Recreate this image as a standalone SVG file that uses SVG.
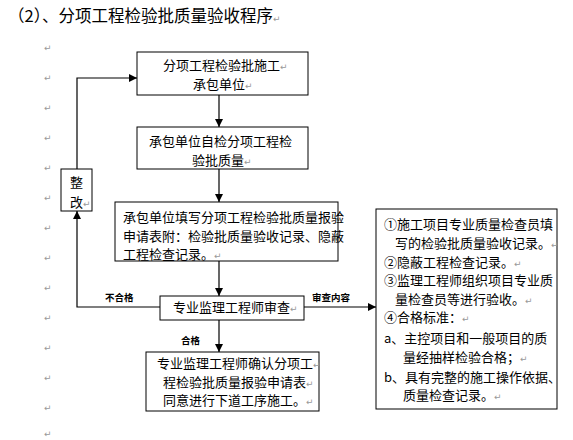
<svg xmlns="http://www.w3.org/2000/svg" width="573" height="440" viewBox="0 0 573 440">
<style>
.box{fill:#fff;stroke:#000;stroke-width:1}
.t{font-family:"Noto Sans CJK SC","Liberation Sans",sans-serif;font-size:13px;fill:#000}
.lbl{font-family:"Noto Sans CJK SC","Liberation Sans",sans-serif;font-size:9.5px;font-weight:bold;fill:#000}
.pm{font-family:"DejaVu Sans",sans-serif;font-size:9px;fill:#999}
.ln{fill:none;stroke:#000;stroke-width:1.2}
</style>
<defs>
<marker id="ah" viewBox="0 0 10 10" refX="10" refY="5" markerWidth="8" markerHeight="8" markerUnits="userSpaceOnUse" orient="auto">
<path d="M0,0 L10,5 L0,10 z" fill="#000"/>
</marker>
</defs>
<rect width="573" height="440" fill="#fff"/>
<text x="8" y="22" font-family="Noto Sans CJK SC,sans-serif" font-size="16.5" fill="#000">（2）、分项工程检验批质量验收程序<tspan class="pm">↵</tspan></text>
<g id="marks" class="pm">
<text x="44" y="51">↵</text><text x="44" y="81">↵</text><text x="44" y="111">↵</text><text x="44" y="141">↵</text><text x="44" y="171">↵</text><text x="44" y="201">↵</text><text x="44" y="231">↵</text><text x="44" y="261">↵</text><text x="44" y="291">↵</text><text x="44" y="321">↵</text><text x="44" y="351">↵</text><text x="44" y="381">↵</text><text x="44" y="411">↵</text><text x="44" y="437">↵</text>
</g>
<g id="connectors">
<line class="ln" x1="219" y1="95" x2="219" y2="127" marker-end="url(#ah)"/>
<line class="ln" x1="219" y1="169" x2="219" y2="202" marker-end="url(#ah)"/>
<line class="ln" x1="219" y1="261" x2="219" y2="296" marker-end="url(#ah)"/>
<line class="ln" x1="219" y1="320" x2="219" y2="352" marker-end="url(#ah)"/>
<line class="ln" x1="304" y1="307" x2="376" y2="307" marker-end="url(#ah)"/>
<polyline class="ln" points="160,307 77,307 77,211" marker-end="url(#ah)"/>
<polyline class="ln" points="77,169 77,78 137,78" marker-end="url(#ah)"/>
<text class="lbl" x="105" y="301">不合格</text>
<text class="lbl" x="312" y="301">审查内容</text>
<text class="lbl" x="181" y="344">合格</text>
</g>
<g id="n1">
<rect class="box" x="137" y="52" width="171" height="43"/>
<text class="t" x="163" y="70">分项工程检验批施工<tspan class="pm">↵</tspan></text>
<text class="t" x="193" y="89">承包单位<tspan class="pm">↵</tspan></text>
</g>
<g id="n2">
<rect class="box" x="137" y="127" width="171" height="42"/>
<text class="t" x="149" y="146">承包单位自检分项工程检</text>
<text class="t" x="192" y="165">验批质量<tspan class="pm">↵</tspan></text>
</g>
<g id="n3">
<rect class="box" x="115" y="202" width="223" height="59"/>
<text class="t" x="123" y="222">承包单位填写分项工程检验批质量报验</text>
<text class="t" x="123" y="241">申请表附：检验批质量验收记录、隐蔽</text>
<text class="t" x="123" y="259">工程检查记录。<tspan class="pm">↵</tspan></text>
</g>
<g id="n4">
<rect class="box" x="160" y="296" width="144" height="24"/>
<text class="t" x="173" y="312">专业监理工程师审查<tspan class="pm">↵</tspan></text>
</g>
<g id="n5">
<rect class="box" x="146" y="352" width="173" height="59"/>
<text class="t" x="157" y="368">专业监理工程师确认分项工<tspan class="pm">↵</tspan></text>
<text class="t" x="163" y="387">程检验批质量报验申请表<tspan class="pm">↵</tspan></text>
<text class="t" x="163" y="405">同意进行下道工序施工。<tspan class="pm">↵</tspan></text>
</g>
<g id="n6">
<rect class="box" x="61" y="169" width="31" height="42"/>
<text class="t" x="70" y="187" font-size="14">整</text>
<text class="t" x="70" y="207" font-size="11">改<tspan class="pm">↵</tspan></text>
</g>
<g id="n7">
<rect class="box" x="376" y="209" width="181" height="200"/>
<text class="t" x="384" y="229">①施工项目专业质量检查员填</text>
<text class="t" x="395" y="248">写的检验批质量验收记录。<tspan class="pm">↵</tspan></text>
<text class="t" x="384" y="267">②隐蔽工程检查记录。<tspan class="pm">↵</tspan></text>
<text class="t" x="384" y="285">③监理工程师组织项目专业质</text>
<text class="t" x="395" y="304">量检查员等进行验收。<tspan class="pm">↵</tspan></text>
<text class="t" x="384" y="322">④合格标准：<tspan class="pm">↵</tspan></text>
<text class="t" x="384" y="343">a、主控项目和一般项目的质</text>
<text class="t" x="403" y="362">量经抽样检验合格；<tspan class="pm">↵</tspan></text>
<text class="t" x="384" y="382">b、具有完整的施工操作依据、</text>
<text class="t" x="403" y="400">质量检查记录。<tspan class="pm">↵</tspan></text>
</g>
</svg>
